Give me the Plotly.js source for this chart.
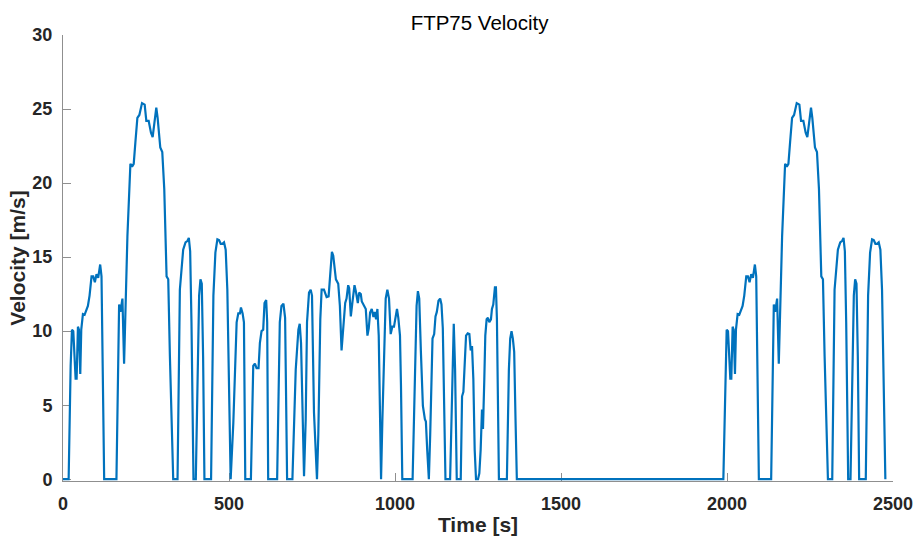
<!DOCTYPE html>
<html>
<head>
<meta charset="utf-8">
<script src="https://cdn.plot.ly/plotly-3.0.1.min.js"></script>
<style>html,body{margin:0;padding:0;background:#fff;}#chart{width:917px;height:536px;}</style>
</head>
<body>
<div id="chart"></div>
<script>
// Cold-start transient phase (time [s], velocity [m/s])
const coldTime = [0,17,23,27,31,38,41,45,48,52,55,60,65,70,75,80,86,91,96,101,106,112,116,124,
  161,169,173,179,184,194,199,203,208,213,218,224,230,234,238,246,251,258,265,270,275,281,285,289,293,299,305,312,317,322,332,
  345,352,362,369,375,379,383,387,393,400,410,414,418,422,426,446,453,459,465,470,475,480,485,490,495,501,505];
const coldVel = [0,0,7.65,10.1,10.0,6.8,6.8,10.3,10.1,7.1,10.1,11.15,11.1,11.4,11.7,12.4,13.7,13.7,13.3,13.85,13.6,14.5,13.7,0,
  0,11.8,11.3,12.2,7.8,16.4,20,21.3,21.1,21.3,22.75,24.4,24.6,25.1,25.4,25.3,24.2,24.2,23.4,23.1,23.9,25.1,24.4,23.1,22.4,22.1,19.6,13.7,13.5,8.3,0,
  0,12.8,15.5,16,16.1,16.3,15.4,10.6,0,0,12.4,13.5,13.2,8.3,0,0,12.4,15.3,16.2,16.15,15.9,15.9,16,15.5,12.8,3.85,0];

// Stabilized phase
const stabTime = [513,523,528,533,536,541,545,549,566,573,578,583,589,593,598,603,607,612,615,618,645,653,658,664,669,675,
  691,701,709,713,717,723,726,731,735,741,746,750,756,765,769,775,779,786,794,800,806,810,814,818,822,829,834,839,844,850,854,
  859,862,867,872,878,882,888,892,897,900,907,912,917,921,925,930,935,939,943,947,951,955,958,962,967,972,977,982,987,992,997,
  1001,1006,1010,1015,1018,1022,1053,1059,1065,1069,1073,1078,1084,1090,1093,1097,1102,1106,1109,1113,1118,1122,1126,1131,1136,
  1140,1144,1148,1152,1166,1172,1177,1181,1186,1198,1202,1206,1210,1214,1219,1224,1228,1232,1236,1240,1244,1250,1254,1258,1262,
  1265,1269,1272,1276,1280,1284,1289,1292,1296,1301,1304,1307,1313,1337,1343,1347,1351,1355,1359,1363,1367];
const stabVel = [3.8,10.6,11.2,11.2,11.6,11.2,10.6,0,0,7.65,7.8,7.5,7.5,9.2,10,10.1,11.9,12.1,10.6,0,0,10.6,11.7,11.85,10.9,0,
  0,7.4,10.1,10.5,9.2,3.8,0.2,4,10.6,12.6,12.8,12.4,4.5,0,3,10.8,12.8,12.8,12.3,12.35,14.6,15.36,15.1,14.2,13.5,13.2,11.7,8.7,10.2,11.9,12.2,
  13.1,12.9,11.0,12,13.1,12.7,11.9,12.6,12.5,12,11.7,11.5,9.7,10.2,11.26,11.5,10.95,11.3,10.8,11.5,9.7,4,0,4,8.6,12.2,12.8,12.2,9.8,10.3,10.3,
  10.8,11.5,10.9,9.7,6.3,0,0,6.3,11.7,12.7,12.2,8.6,4.95,4.05,3.9,2,0,3,6.3,9.5,9.8,11,11.3,12.05,12.2,
  11.8,10.2,5.9,0,0,6.3,10.5,7.4,0,0,5.6,5.9,7.65,9.7,9.85,9.8,8.7,9,6.75,2,0,0,0.4,2,4.7,
  3.4,6.75,9.7,10.8,10.9,10.6,10.8,11.5,11.8,12.95,12.95,10.8,0,0,7.4,9.5,10,9.5,8.6,4.05,0];

// Hot-start transient phase
const hotTime = [1989,1995,1999,2003,2010,2013,2017,2020,2024,2027,2032,2037,2042,2047,2052,2058,2063,2068,2073,2078,2084,2088,2096,
  2133,2141,2145,2151,2156,2166,2171,2175,2180,2185,2190,2196,2202,2206,2210,2218,2223,2230,2237,2242,2247,2253,2257,2261,2265,2271,2277,2284,2289,2294,2304,
  2317,2324,2334,2341,2347,2351,2355,2359,2365,2372,2382,2386,2390,2394,2398,2418,2425,2431,2437,2442,2447,2452,2457,2462,2467,2473,2477];
const hotVel = [0,7.65,10.1,10.0,6.8,6.8,10.3,10.1,7.1,10.1,11.15,11.1,11.4,11.7,12.4,13.7,13.7,13.3,13.85,13.6,14.5,13.7,0,
  0,11.8,11.3,12.2,7.8,16.4,20,21.3,21.1,21.3,22.75,24.4,24.6,25.1,25.4,25.3,24.2,24.2,23.4,23.1,23.9,25.1,24.4,23.1,22.4,22.1,19.6,13.7,13.5,8.3,0,
  0,12.8,15.5,16,16.1,16.3,15.4,10.6,0,0,12.4,13.5,13.2,8.3,0,0,12.4,15.3,16.2,16.15,15.9,15.9,16,15.5,12.8,3.85,0];

const xTicks = [0,500,1000,1500,2000,2500];
const yTicks = [0,5,10,15,20,25,30];

const time = coldTime.concat(stabTime, hotTime);
const vel = coldVel.concat(stabVel, hotVel);

const axisGray = '#8f8f8f';
const tickFont = {family: 'Liberation Sans, Arial, sans-serif', size: 18, color: '#262626', weight: 'bold'};

Plotly.newPlot('chart', [{
  x: time, y: vel, type: 'scatter', mode: 'lines',
  line: {color: '#0072BD', width: 2.2, shape: 'linear'},
  hoverinfo: 'x+y', showlegend: false
}], {
  width: 917, height: 536,
  margin: {l: 63, r: 24, t: 35, b: 55},
  paper_bgcolor: '#fff', plot_bgcolor: '#fff',
  title: {text: 'FTP75 Velocity', x: 0.523, xanchor: 'center', y: 0.958, yanchor: 'middle', yref: 'container',
          font: {family: 'Liberation Sans, Arial, sans-serif', size: 20.5, color: '#000'}},
  xaxis: {range: [0, 2500], tickvals: xTicks, ticktext: xTicks.map(String),
          showgrid: false, zeroline: false, showline: true, linecolor: axisGray, linewidth: 1,
          ticks: 'inside', ticklen: 8, tickcolor: axisGray, tickwidth: 1, ticklabelstandoff: 6,
          tickfont: tickFont, layer: 'below traces',
          title: {text: 'Time [s]', standoff: 10, font: {family: 'Liberation Sans, Arial, sans-serif', size: 21, color: '#262626', weight: 'bold'}}},
  yaxis: {range: [-0.12, 30], tickvals: yTicks, ticktext: yTicks.map(String),
          showgrid: false, zeroline: false, showline: true, linecolor: axisGray, linewidth: 1,
          ticks: 'inside', ticklen: 8, tickcolor: axisGray, tickwidth: 1, ticklabelstandoff: 6,
          tickfont: tickFont, layer: 'below traces',
          title: {text: 'Velocity [m/s]', standoff: 1, font: {family: 'Liberation Sans, Arial, sans-serif', size: 21, color: '#262626', weight: 'bold'}}}
}, {displayModeBar: false, staticPlot: true});
</script>
</body>
</html>
